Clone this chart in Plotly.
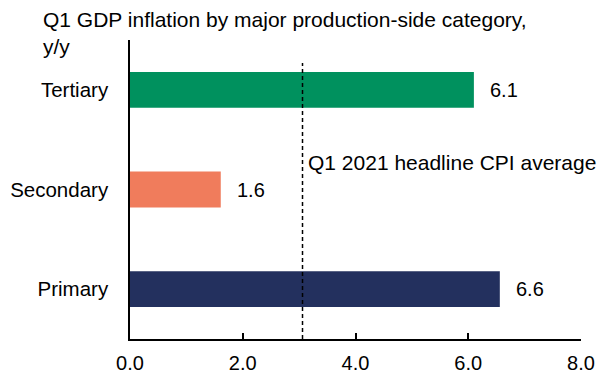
import plotly.graph_objects as go

categories = ["Primary", "Secondary", "Tertiary"]
values = [6.56, 1.61, 6.1]
colors = ["#23305E", "#F07C5C", "#00915E"]
cpi_avg = 3.06
x_ticks = [0, 2, 4, 6, 8]
title_text = "Q1 GDP inflation by major production-side category,<br>y/y"
cpi_text = "Q1 2021 headline CPI average"

FONT = "Liberation Sans, Arial, sans-serif"

fig = go.Figure()
fig.add_trace(go.Bar(
    y=categories, x=values, orientation="h",
    marker=dict(color=colors, line=dict(width=0)),
    width=0.36, hoverinfo="skip",
))

for c, v in zip(categories, values):
    fig.add_annotation(x=v, y=c, xref="x", yref="y", text=f"{v:.1f}",
                       showarrow=False, xanchor="left", yanchor="middle",
                       xshift=14, font=dict(size=20, color="#000000", family=FONT))

fig.add_shape(type="line", xref="x", yref="paper", x0=cpi_avg, x1=cpi_avg,
              y0=0, y1=0.923, line=dict(color="#000000", width=1.5, dash="4px,3px"))
fig.add_annotation(x=cpi_avg, y=1.27, xref="x", yref="y",
                   text=cpi_text, showarrow=False,
                   xanchor="left", yanchor="middle", xshift=3,
                   font=dict(size=21, color="#000000", family=FONT))

# title as an annotation placed relative to the plot area (pixels -> paper)
plot_left, plot_right, plot_top, plot_bottom = 130, 581, 40, 339
fig.add_annotation(text=title_text, xref="paper", yref="paper",
                   x=(41 - plot_left) / (plot_right - plot_left),
                   y=(plot_bottom - 6) / (plot_bottom - plot_top),
                   xanchor="left", yanchor="top", align="left", showarrow=False,
                   font=dict(size=21, color="#000000", family=FONT))

fig.update_layout(
    width=602, height=375,
    margin=dict(l=plot_left, r=602 - plot_right, t=plot_top, b=375 - plot_bottom),
    paper_bgcolor="white", plot_bgcolor="white",
    showlegend=False,
    font=dict(family=FONT, size=20, color="#000000"),
    xaxis=dict(range=[0, 8], tickvals=x_ticks, tickformat=".1f",
               showgrid=False, zeroline=False, automargin=False,
               showline=True, linecolor="#000000", linewidth=1.5,
               ticks="inside", ticklen=6, tickwidth=1.5, tickcolor="#000000",
               ticklabelstandoff=5,
               tickfont=dict(size=20), fixedrange=True),
    yaxis=dict(categoryorder="array", categoryarray=categories,
               range=[-0.5, 2.5], showgrid=False, zeroline=False, automargin=False,
               showline=True, linecolor="#000000", linewidth=1.5,
               ticks="", ticklabelstandoff=16,
               tickfont=dict(size=20.5), fixedrange=True),
)

fig.write_html("out.html")
